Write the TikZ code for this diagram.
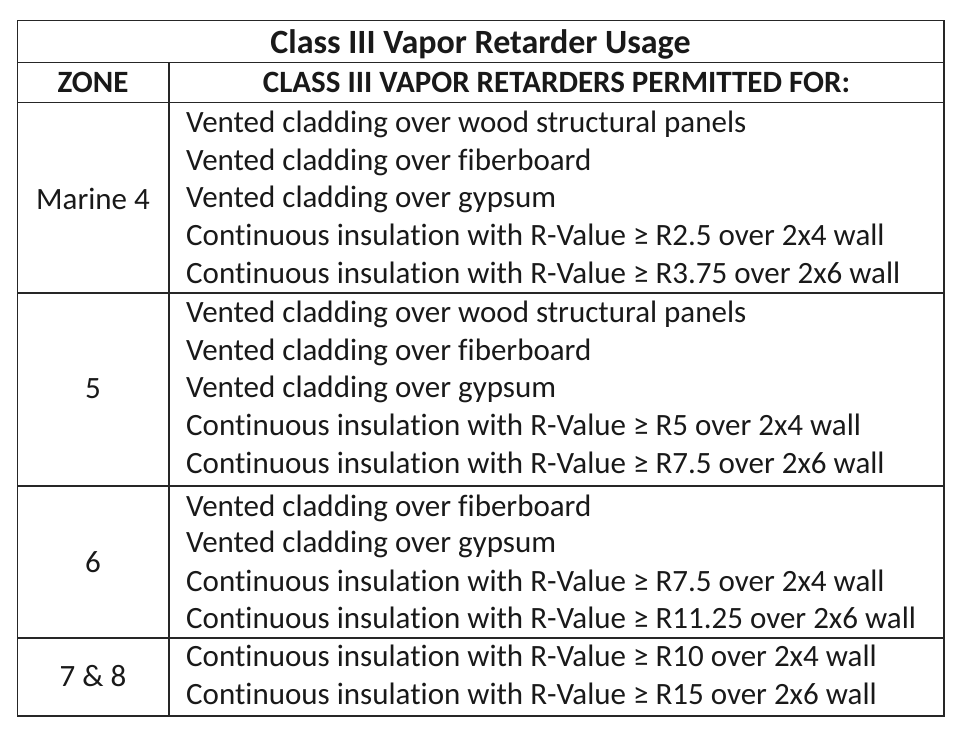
\documentclass[tikz,border=0pt]{standalone}
\usepackage{fontspec}
\setmainfont[Ligatures=NoCommon]{Carlito}
\begin{document}
\begin{tikzpicture}[x=1pt,y=-1pt,
  grid/.style={line width=1.6pt,draw=black!85},
  cell/.style={inner sep=0pt,font=\fontsize{31}{34}\selectfont,text=black!90},
  hcell/.style={cell,font=\fontsize{31}{34}\selectfont\bfseries},
  tcell/.style={cell,font=\fontsize{34}{38}\selectfont\bfseries},
  item/.style={cell,anchor=base west},
  zone/.style={cell,anchor=base}]
\useasboundingbox (0,0) rectangle (960,731);
% grid
\draw[grid] (17.5,20.5) rectangle (944,716);
\draw[grid] (17.5,62.5) -- (944,62.5);
\draw[grid] (17.5,102.5) -- (944,102.5);
\draw[grid] (17.5,293) -- (944,293);
\draw[grid] (17.5,485.7) -- (944,485.7);
\draw[grid] (17.5,638) -- (944,638);
\draw[grid] (169,62.5) -- (169,716);
% title and header
\node[tcell,anchor=base] (title) at (480.5,53.3) {Class III Vapor Retarder Usage};
\node[hcell,anchor=base] (hzone) at (93,92.3) {ZONE};
\node[hcell,anchor=base] (hperm) at (556.5,92.3) {CLASS III VAPOR RETARDERS PERMITTED FOR:};
% zones
\node[zone] (z4) at (93,209.3) {Marine 4};
\node[zone] (z5) at (93,398.3) {5};
\node[zone] (z6) at (93,572) {6};
\node[zone] (z78) at (93,686) {7 \& 8};
% Marine 4
\node[item] (a1) at (186,132.3) {Vented cladding over wood structural panels};
\node[item] (a2) at (186,170) {Vented cladding over fiberboard};
\node[item] (a3) at (186,207.7) {Vented cladding over gypsum};
\node[item] (a4) at (186,245.5) {Continuous insulation with R-Value ≥ R2.5 over 2x4 wall};
\node[item] (a5) at (186,283.3) {Continuous insulation with R-Value ≥ R3.75 over 2x6 wall};
% 5
\node[item] (b1) at (186,322.3) {Vented cladding over wood structural panels};
\node[item] (b2) at (186,360) {Vented cladding over fiberboard};
\node[item] (b3) at (186,397.7) {Vented cladding over gypsum};
\node[item] (b4) at (186,435.7) {Continuous insulation with R-Value ≥ R5 over 2x4 wall};
\node[item] (b5) at (186,473.3) {Continuous insulation with R-Value ≥ R7.5 over 2x6 wall};
% 6
\node[item] (c1) at (186,516) {Vented cladding over fiberboard};
\node[item] (c2) at (186,552.7) {Vented cladding over gypsum};
\node[item] (c3) at (186,591) {Continuous insulation with R-Value ≥ R7.5 over 2x4 wall};
\node[item] (c4) at (186,628.3) {Continuous insulation with R-Value ≥ R11.25 over 2x6 wall};
% 7 & 8
\node[item] (d1) at (186,666.7) {Continuous insulation with R-Value ≥ R10 over 2x4 wall};
\node[item] (d2) at (186,704.3) {Continuous insulation with R-Value ≥ R15 over 2x6 wall};
\end{tikzpicture}
\end{document}
